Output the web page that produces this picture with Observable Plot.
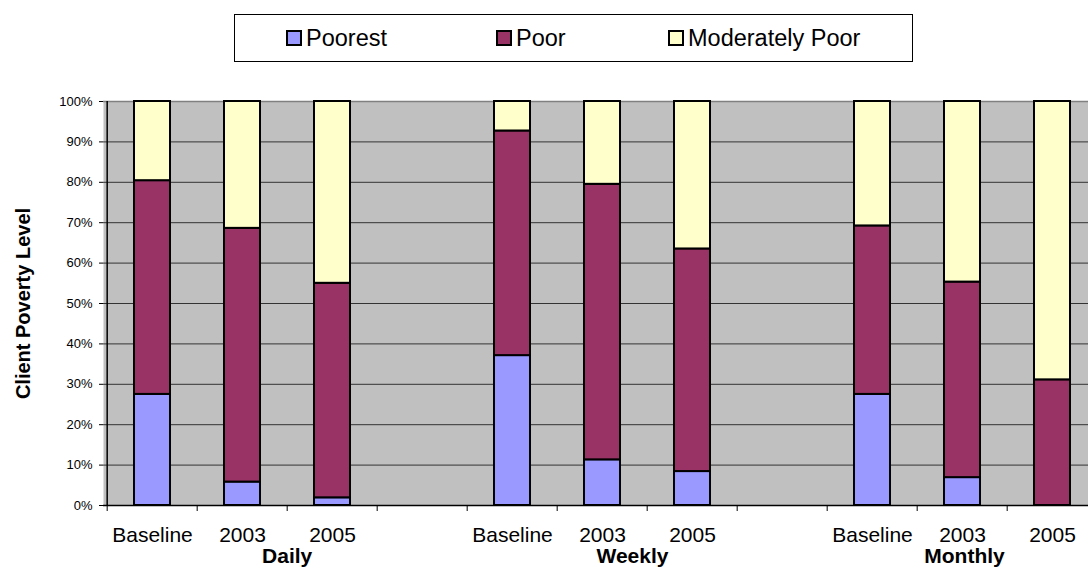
<!DOCTYPE html>
<html><head><meta charset="utf-8">
<script src="https://cdn.jsdelivr.net/npm/d3@7"></script>
<script src="https://cdn.jsdelivr.net/npm/@observablehq/plot@0.6"></script>
<style>
html,body{margin:0;padding:0;background:#fff;}
body{width:1088px;height:570px;overflow:hidden;font-family:"Liberation Sans",Arial,sans-serif;}
#legend{position:relative;width:1088px;height:80px;}
#legend .box{position:absolute;left:234px;top:14px;width:679px;height:48px;border:1px solid #000;box-sizing:border-box;}
#legend .item{position:absolute;top:15px;height:46px;display:flex;align-items:center;font-size:23.5px;color:#000;white-space:nowrap;}
#legend .sw{width:12px;height:12px;border:2px solid #000;margin-right:4px;}
#chart svg{display:block;}
</style>
</head><body>
<div id="legend"><div class="box"></div></div>
<div id="chart"></div>
<script>
// ---- data ----
const groups = ["Daily", "Weekly", "Monthly"];
const periods = ["Baseline", "2003", "2005"];
const levels = ["Poorest", "Poor", "Moderately Poor"];
const levelColors = ["#9999FF", "#993366", "#FFFFCC"];
// values in %, ordered Daily(Baseline,2003,2005), Weekly(...), Monthly(...)
const poorest        = [27.5,  5.8,  1.9, 37.1, 11.3,  8.4, 27.5,  6.9,  0.0];
const poor           = [52.9, 62.8, 53.1, 55.6, 68.2, 55.1, 41.7, 48.4, 31.1];
const moderatelyPoor = [19.6, 31.4, 45.0,  7.3, 20.5, 36.5, 30.8, 44.7, 68.9];
const yTicks = [0, 10, 20, 30, 40, 50, 60, 70, 80, 90, 100];
const yTitle = "Client Poverty Level";

// ---- build table ----
const series = [poorest, poor, moderatelyPoor];
const keys = [];
groups.forEach((g, gi) => {
  periods.forEach(p => keys.push(g + "|" + p));
  if (gi < groups.length - 1) keys.push("gap" + gi);
});
const rows = [];
groups.forEach((g, gi) => periods.forEach((p, pi) => {
  const i = gi * periods.length + pi;
  levels.forEach((lv, li) => {
    if (series[li][i] > 0) rows.push({key: g + "|" + p, level: lv, value: series[li][i]});
  });
}));

// ---- legend ----
const legend = document.getElementById("legend");
const legendLeft = [286, 496, 668];
levels.forEach((lv, i) => {
  const it = document.createElement("div");
  it.className = "item";
  it.style.left = legendLeft[i] + "px";
  const sw = document.createElement("span");
  sw.className = "sw";
  sw.style.background = levelColors[i];
  it.appendChild(sw);
  it.appendChild(document.createTextNode(lv));
  legend.appendChild(it);
});

// ---- chart ----
const W = 1088, H = 490, mL = 103, mT = 21, mB = 65;
const xRight = 1100;
const step = (xRight - mL) / keys.length;
const groupText = {frameAnchor: "bottom", lineAnchor: "middle", textAnchor: "middle", dy: 51, fontSize: 21, fontWeight: "bold"};

const chart = Plot.plot({
  width: W, height: H,
  marginLeft: mL, marginRight: 0, marginTop: mT, marginBottom: mB,
  style: {fontFamily: "Liberation Sans, Arial, sans-serif", background: "white", color: "black", overflow: "hidden"},
  x: {type: "band", domain: keys, range: [mL, xRight], paddingInner: 0.6, paddingOuter: 0.3},
  y: {domain: [0, 100]},
  color: {domain: levels, range: levelColors},
  marks: [
    Plot.frame({fill: "#C0C0C0", stroke: "none"}),
    Plot.ruleY(yTicks.filter(d => d > 0 && d < 100), {stroke: "#333", strokeWidth: 1}),
    Plot.ruleY([100], {stroke: "#808080", strokeWidth: 1.5}),
    Plot.barY(rows, {x: "key", y: "value", fill: "level", stroke: "black", strokeWidth: 2, order: levels}),
    Plot.ruleY([0], {stroke: "black", strokeWidth: 1.5}),
    Plot.ruleX([keys[0]], {y1: 0, y2: 100, dx: -step / 2, stroke: "black", strokeWidth: 1.5}),
    Plot.axisY(yTicks, {tickSize: 4, tickPadding: 7, fontSize: 13, tickFormat: d => d + "%", label: null}),
    Plot.axisX(keys, {tickSize: 6, dx: -step / 2, tickFormat: () => "", label: null}),
    Plot.axisX(keys, {tickSize: 0, tickPadding: 22, fontSize: 21,
      tickFormat: k => k.startsWith("gap") ? "" : k.split("|")[1], label: null}),
    Plot.text([groups[0]], {x: [keys[2]], dx: -step / 2, ...groupText}),
    Plot.text([groups[1]], {x: [keys[5]], ...groupText, dx: 30}),
    Plot.text([groups[2]], {x: [keys[9]], ...groupText, dx: 2}),
    Plot.text([yTitle], {frameAnchor: "left", textAnchor: "middle", lineAnchor: "middle", rotate: -90, dx: -80, fontSize: 20, fontWeight: "bold"})
  ]
});
document.getElementById("chart").appendChild(chart);
</script>
</body></html>
